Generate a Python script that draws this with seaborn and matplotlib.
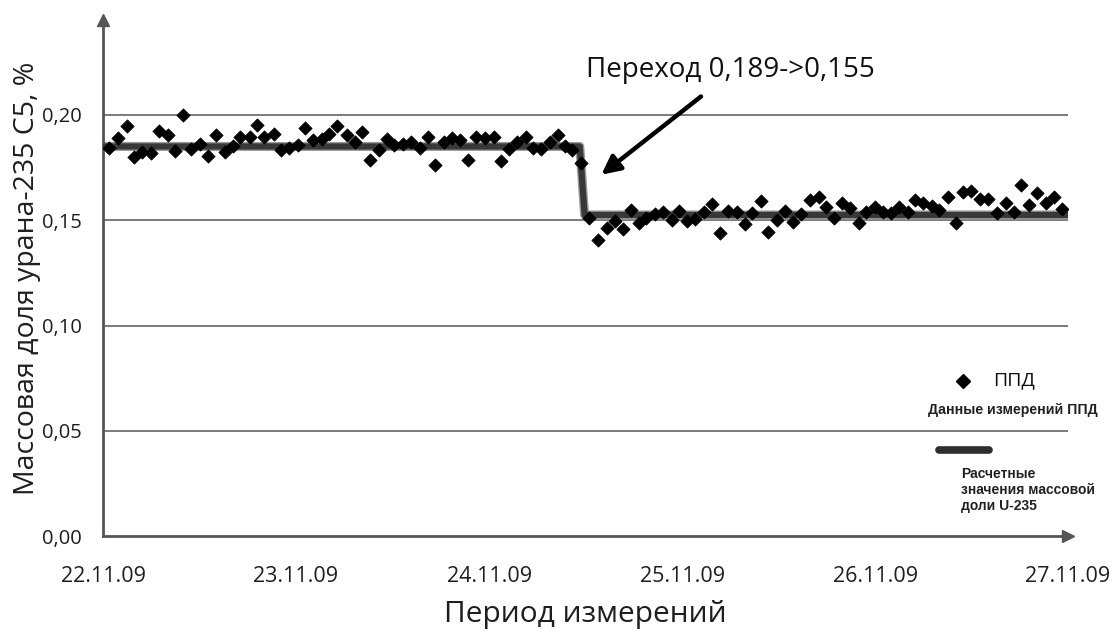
import matplotlib
matplotlib.use("Agg")
import matplotlib.pyplot as plt
import seaborn as sns
import pandas as pd

# Measurement time, days since 22.11.09 00:00
t_days = [0.031, 0.076, 0.122, 0.162, 0.203, 0.251, 0.289, 0.337, 0.372, 0.414,
          0.458, 0.501, 0.543, 0.587, 0.630, 0.672, 0.712, 0.759, 0.798, 0.836,
          0.884, 0.922, 0.965, 1.008, 1.046, 1.090, 1.137, 1.171, 1.214, 1.263,
          1.304, 1.343, 1.383, 1.429, 1.469, 1.510, 1.555, 1.596, 1.641, 1.682,
          1.722, 1.765, 1.808, 1.851, 1.889, 1.933, 1.980, 2.023, 2.060, 2.105,
          2.146, 2.191, 2.229, 2.271, 2.315, 2.358, 2.393, 2.432, 2.478, 2.517,
          2.565, 2.612, 2.654, 2.694, 2.733, 2.775, 2.814, 2.860, 2.900, 2.946,
          2.986, 3.025, 3.067, 3.111, 3.153, 3.198, 3.239, 3.283, 3.325, 3.364,
          3.407, 3.447, 3.490, 3.531, 3.576, 3.617, 3.665, 3.708, 3.748, 3.789,
          3.829, 3.868, 3.915, 3.954, 4.000, 4.040, 4.082, 4.126, 4.168, 4.207,
          4.250, 4.293, 4.333, 4.379, 4.418, 4.457, 4.499, 4.541, 4.587, 4.631,
          4.676, 4.718, 4.757, 4.797, 4.840, 4.885, 4.926, 4.969]

# Measured U-235 mass fraction (PPD), %
ppd_values = [0.1842, 0.1890, 0.1949, 0.1798, 0.1823, 0.1818, 0.1924, 0.1905, 0.1829, 0.2000,
              0.1839, 0.1861, 0.1807, 0.1905, 0.1823, 0.1850, 0.1897, 0.1897, 0.1953, 0.1897,
              0.1908, 0.1835, 0.1845, 0.1858, 0.1937, 0.1882, 0.1886, 0.1908, 0.1949, 0.1905,
              0.1871, 0.1918, 0.1788, 0.1835, 0.1886, 0.1858, 0.1861, 0.1873, 0.1842, 0.1897,
              0.1760, 0.1871, 0.1890, 0.1882, 0.1788, 0.1897, 0.1890, 0.1897, 0.1782, 0.1839,
              0.1873, 0.1897, 0.1845, 0.1839, 0.1873, 0.1902, 0.1850, 0.1835, 0.1771, 0.1510,
              0.1404, 0.1463, 0.1494, 0.1458, 0.1550, 0.1487, 0.1510, 0.1531, 0.1537, 0.1502,
              0.1542, 0.1494, 0.1506, 0.1537, 0.1578, 0.1439, 0.1546, 0.1537, 0.1483, 0.1534,
              0.1589, 0.1442, 0.1499, 0.1542, 0.1490, 0.1531, 0.1596, 0.1610, 0.1563, 0.1510,
              0.1584, 0.1558, 0.1487, 0.1537, 0.1565, 0.1537, 0.1534, 0.1565, 0.1537, 0.1597,
              0.1584, 0.1569, 0.1550, 0.1610, 0.1487, 0.1635, 0.1640, 0.1600, 0.1600, 0.1536,
              0.1584, 0.1537, 0.1668, 0.1571, 0.1629, 0.1583, 0.1610, 0.1555]

# Calculated mass fraction (step from one enrichment level to the other)
calc_t = [0.0, 2.47, 2.495, 5.0]
calc_values = [0.185, 0.185, 0.1525, 0.1525]

day_labels = ["22.11.09", "23.11.09", "24.11.09", "25.11.09", "26.11.09", "27.11.09"]
y_ticks = [0.00, 0.05, 0.10, 0.15, 0.20]
y_labels = ["0,00", "0,05", "0,10", "0,15", "0,20"]

meas = pd.DataFrame({"t": t_days, "value": ppd_values})
calc = pd.DataFrame({"t": calc_t, "value": calc_values})

sns.set_style("white")
plt.rcParams["font.family"] = ["Open Sans", "DejaVu Sans"]

fig = plt.figure(figsize=(11.14, 6.37), dpi=100)
ax = fig.add_axes([0.0925, 0.158, 0.8663, 0.8106])

axis_col = "#555555"
grid_col = "#7a7a7a"
text_col = "#1e1e1e"

for yv in y_ticks[1:]:
    ax.axhline(yv, color=grid_col, lw=1.4, zorder=1)

# calculated line with a soft shadow
sns.lineplot(data=calc, x="t", y="value", ax=ax, color="#9a9a9a", lw=6.5,
             zorder=2, legend=False)
sns.lineplot(data=calc, x="t", y="value", ax=ax, color="#383838", lw=4.5,
             zorder=3, legend=False)
sns.scatterplot(data=meas, x="t", y="value", ax=ax, marker="D", s=46,
                color="black", edgecolor="black", linewidth=0.5, zorder=4,
                legend=False)

ax.set_xlim(0, 5.0)
ax.set_ylim(0, 0.245)
ax.set_xticks(range(len(day_labels)))
ax.set_xticklabels(day_labels, fontsize=15.5)
ax.set_yticks(y_ticks)
ax.set_yticklabels(y_labels, fontsize=14.5)
ax.tick_params(axis="y", direction="out", length=12, width=1.4, color=grid_col,
               pad=3)
ax.tick_params(axis="x", direction="out", length=7, width=1.4, color=axis_col,
               pad=14)
for lab in ax.get_yticklabels() + ax.get_xticklabels():
    lab.set_color(text_col)

for side in ["top", "right"]:
    ax.spines[side].set_visible(False)
for side in ["left", "bottom"]:
    ax.spines[side].set_color(axis_col)
    ax.spines[side].set_linewidth(2)

# axis arrow heads
ax.plot(1, 0, ">", color=axis_col, ms=8, transform=ax.get_yaxis_transform(),
        clip_on=False, zorder=5)
ax.plot(0, 1, "^", color=axis_col, ms=8, transform=ax.get_xaxis_transform(),
        clip_on=False, zorder=5)

ax.set_xlabel("Период измерений", fontsize=21.5, color=text_col, labelpad=10)
ax.set_ylabel("Массовая доля урана-235 С5, %", fontsize=20.5, color=text_col,
              labelpad=1)

# transition callout
ax.text(3.25, 0.2213, "Переход 0,189->0,155", fontsize=20, ha="center",
        va="center", color="#111111")
ax.annotate("", xy=(2.582, 0.1716), xytext=(3.098, 0.2087),
            arrowprops=dict(arrowstyle="-|>", lw=3.2, color="black",
                            mutation_scale=28, shrinkA=0, shrinkB=0))

# hand-placed legend
ax.plot([4.457], [0.0736], "D", color="black", ms=7, clip_on=False, zorder=5)
ax.text(4.61, 0.0740, "ППД", fontsize=14, va="center", ha="left",
        color="#111111")
ax.text(4.275, 0.0599, "Данные измерений ППД", fontsize=10.2, fontweight="bold",
        family=["Liberation Sans", "DejaVu Sans"], va="center", ha="left",
        color="#222222")
ax.plot([4.33, 4.59], [0.0409, 0.0409], color="#2e2e2e", lw=5.5,
        solid_capstyle="round", zorder=5)
ax.text(4.445, 0.0220, "Расчетные\nзначения массовой\nдоли U-235", fontsize=10,
        fontweight="bold", family=["Liberation Sans", "DejaVu Sans"],
        va="center", ha="left", color="#222222", linespacing=1.15)

fig.savefig("out.png", dpi=100)
